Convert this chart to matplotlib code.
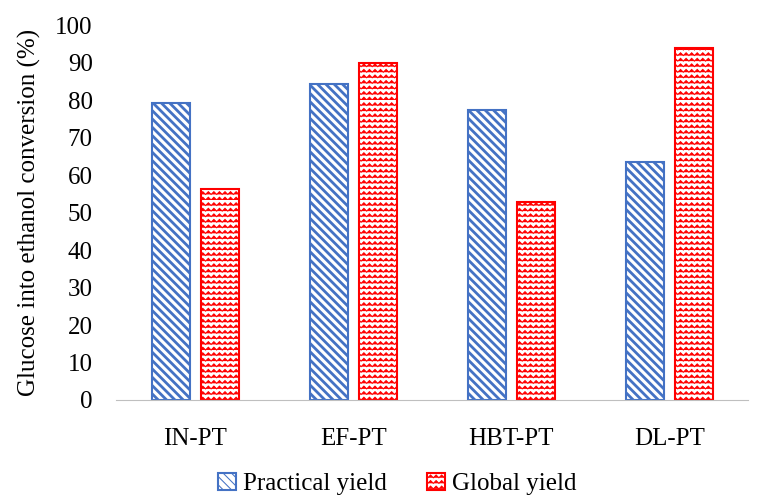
import warnings
import numpy as np
import matplotlib
matplotlib.use('Agg')
import matplotlib.pyplot as plt
import matplotlib.hatch as mhatch
from matplotlib.path import Path

warnings.filterwarnings('ignore')

categories = ['IN-PT', 'EF-PT', 'HBT-PT', 'DL-PT']
practical = [79.2, 84.2, 77.3, 63.4]
global_yield = [56.4, 89.9, 52.7, 94.0]
yticks = list(range(0, 101, 10))


# zigzag hatch, registered as 'z'
class ZigZagHatch(mhatch.HatchPatternBase):
    def __init__(self, hatch, density):
        self.num_lines = int(hatch.count('z') * density)
        self.teeth = self.num_lines
        self.num_vertices = self.num_lines * (self.teeth * 2 + 1)

    def set_vertices_and_codes(self, vertices, codes):
        if self.num_lines == 0:
            return
        step = 1.0 / self.num_lines
        amp = step * 0.5
        n = self.teeth * 2 + 1
        xs = np.linspace(0, 1, n)
        i = 0
        for k in range(self.num_lines):
            ys = k * step + np.where(np.arange(n) % 2 == 0, 0, amp)
            vertices[i:i + n, 0] = xs
            vertices[i:i + n, 1] = ys
            codes[i] = Path.MOVETO
            codes[i + 1:i + n] = Path.LINETO
            i += n


mhatch._hatch_types.append(ZigZagHatch)

plt.rcParams['font.family'] = ['Liberation Serif', 'DejaVu Serif']
plt.rcParams['hatch.linewidth'] = 2.0

fig = plt.figure(figsize=(7.66, 4.95), dpi=100)
ax = fig.add_axes([0.152, 0.192, 0.825, 0.757])

x = np.arange(len(categories))
w = 0.24
off = 0.155
ax.bar(x - off, practical, w, facecolor='white', edgecolor='#4472C4',
       hatch='\\\\\\\\', linewidth=1.5, label='Practical yield')
plt.rcParams['hatch.linewidth'] = 0.75
ax.bar(x + off, global_yield, w, facecolor='white', edgecolor='#FF0000',
       hatch='zzz', linewidth=1.5, label='Global yield')

ax.set_xlim(-0.5, len(categories) - 0.5)
ax.set_ylim(0, 100)
ax.set_yticks(yticks)
ax.set_xticks(x)
ax.set_xticklabels(categories)
ax.tick_params(axis='both', length=0, labelsize=18)
ax.tick_params(axis='x', pad=20)
ax.tick_params(axis='y', pad=17)
for s in ['top', 'right', 'left']:
    ax.spines[s].set_visible(False)
ax.spines['bottom'].set_color('#bfbfbf')
ax.set_ylabel('Glucose into ethanol conversion (%)', fontsize=18, labelpad=10)

ax.legend(loc='lower center', bbox_to_anchor=(0.445, -0.315), ncol=2, frameon=False,
          fontsize=18, handlelength=0.7, handleheight=0.7, columnspacing=1.6,
          handletextpad=0.3)

fig.savefig('out.png', dpi=100)
